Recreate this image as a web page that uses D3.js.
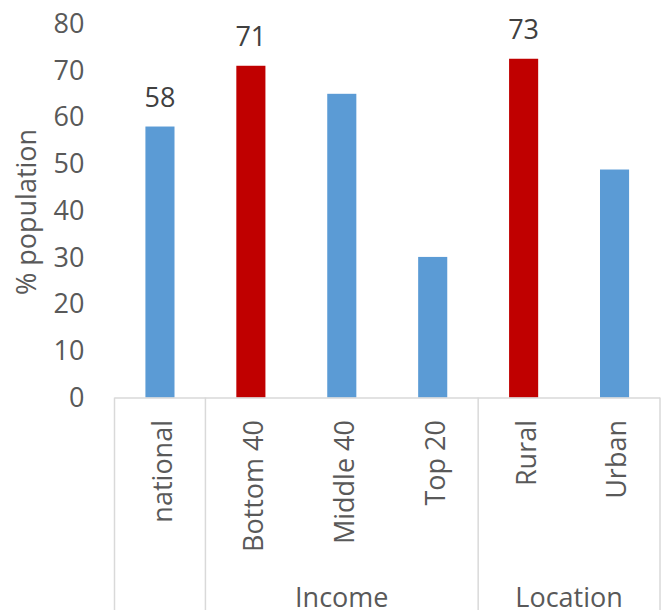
<!DOCTYPE html>
<html>
<head>
<meta charset="utf-8">
<script src="https://cdn.jsdelivr.net/npm/d3@7"></script>
<style>
  body { margin: 0; background: #fff; }
  text { font-family: "Open Sans", sans-serif; }
</style>
</head>
<body>
<svg></svg>
<script>
let categories = ['national', 'Bottom 40', 'Middle 40', 'Top 20', 'Rural', 'Urban'];
let values = [58, 71, 65, 30.1, 72.5, 48.8];
let dataLabels = ['58', '71', '', '', '73', ''];
let highlighted = [false, true, false, false, true, false];

let groupNames = ['', 'Income', 'Location'];
let groupFirst = ['national', 'Bottom 40', 'Rural'];
let groupLast = ['national', 'Top 20', 'Urban'];

let yTicks = [0, 10, 20, 30, 40, 50, 60, 70, 80];

let width = 663;
let height = 610;
let fontSize = 27;

let svg = d3.select('svg')
  .attr('width', width)
  .attr('height', height)

let xScale = d3.scaleBand()
  .domain(categories)
  .range([114.5, 660])
  .paddingInner(0.68)
  .paddingOuter(0.34)

let yScale = d3.scaleLinear()
  .domain([0, 80])
  .range([397.6, 23.7])

let step = xScale.step();
let halfGap = (step - xScale.bandwidth()) / 2;

// bars
svg.selectAll('rect.bar')
  .data(categories)
  .enter()
  .append('rect')
  .attr('class', 'bar')
  .attr('x', (d) => xScale(d))
  .attr('width', xScale.bandwidth())
  .attr('y', (d, i) => yScale(values[i]))
  .attr('height', (d, i) => yScale(0) - yScale(values[i]))
  .attr('fill', (d, i) => highlighted[i] ? '#c00000' : '#5b9bd5')

// data labels
svg.selectAll('text.dlabel')
  .data(categories)
  .enter()
  .append('text')
  .attr('class', 'dlabel')
  .attr('x', (d) => xScale(d) + xScale.bandwidth() / 2)
  .attr('y', (d, i) => yScale(values[i]) - 20)
  .attr('text-anchor', 'middle')
  .attr('font-size', fontSize)
  .attr('fill', '#404040')
  .text((d, i) => dataLabels[i])

// y axis
let yAxis = d3.axisLeft(yScale)
  .tickValues(yTicks)
  .tickSize(0)
  .tickPadding(30)
  .tickFormat(d3.format('d'))

let yG = svg.append('g')
  .attr('transform', 'translate(114.5, 0)')
  .call(yAxis)
yG.select('.domain').remove()
yG.selectAll('text')
  .attr('font-size', fontSize)
  .attr('font-family', '"Open Sans", sans-serif')
  .attr('fill', '#595959')

svg.append('text')
  .attr('transform', 'translate(36, 212) rotate(-90)')
  .attr('text-anchor', 'middle')
  .attr('font-size', fontSize)
  .attr('fill', '#595959')
  .text('% population')

// x axis line
svg.append('line')
  .attr('x1', xScale.range()[0])
  .attr('x2', xScale.range()[1])
  .attr('y1', yScale(0) + 0.5)
  .attr('y2', yScale(0) + 0.5)
  .attr('stroke', '#d9d9d9')
  .attr('stroke-width', 1.5)

// group boundaries
let boundaries = [xScale(groupFirst[0]) - halfGap];
groupLast.forEach((d) => boundaries.push(xScale(d) + xScale.bandwidth() + halfGap));

svg.selectAll('line.sep')
  .data(boundaries)
  .enter()
  .append('line')
  .attr('class', 'sep')
  .attr('x1', (d) => d)
  .attr('x2', (d) => d)
  .attr('y1', yScale(0))
  .attr('y2', height)
  .attr('stroke', '#d9d9d9')
  .attr('stroke-width', 1.5)

// category labels
svg.selectAll('text.cat')
  .data(categories)
  .enter()
  .append('text')
  .attr('class', 'cat')
  .attr('transform', (d) => `translate(${xScale(d) + xScale.bandwidth() / 2}, 420) rotate(-90)`)
  .attr('dy', '0.44em')
  .attr('text-anchor', 'end')
  .attr('font-size', fontSize)
  .attr('fill', '#595959')
  .text((d) => d)

// group labels
svg.selectAll('text.group')
  .data(groupNames)
  .enter()
  .append('text')
  .attr('class', 'group')
  .attr('x', (d, i) => {
    let left = xScale(groupFirst[i]) - halfGap;
    let right = xScale(groupLast[i]) + xScale.bandwidth() + halfGap;
    return (left + right) / 2;
  })
  .attr('y', 607)
  .attr('text-anchor', 'middle')
  .attr('font-size', fontSize)
  .attr('fill', '#595959')
  .text((d) => d)
</script>
</body>
</html>
